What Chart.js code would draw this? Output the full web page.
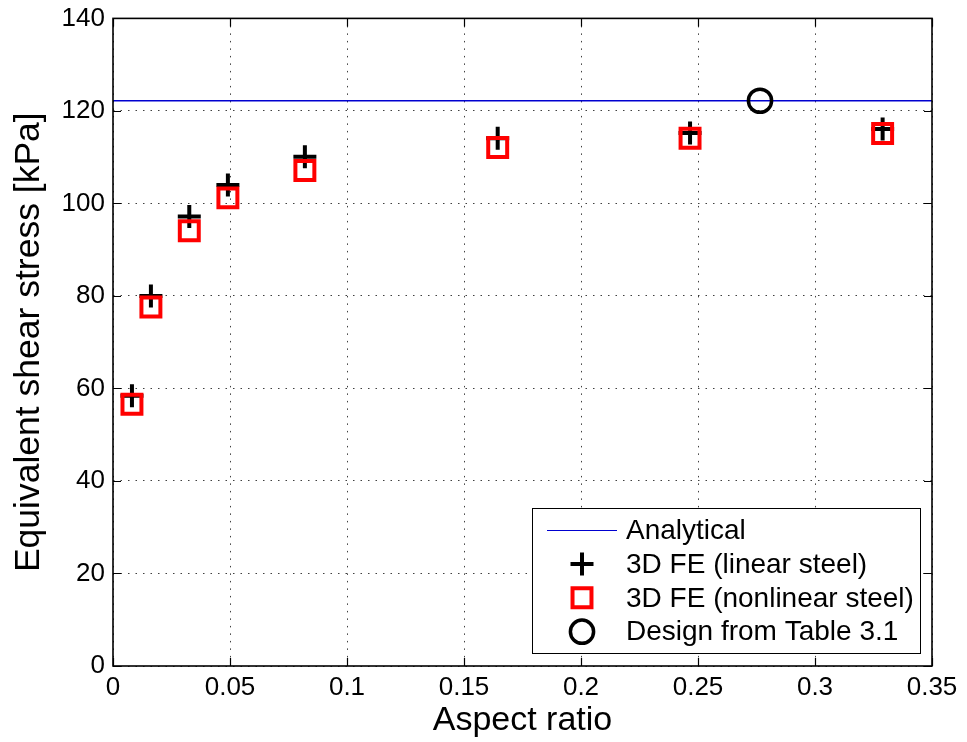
<!DOCTYPE html>
<html>
<head>
<meta charset="utf-8">
<script src="https://cdn.jsdelivr.net/npm/chart.js@4.4.1/dist/chart.umd.min.js"></script>
<style>
  html, body { margin: 0; padding: 0; background: #fff; }
  #wrap { width: 967px; height: 742px; }
</style>
</head>
<body>
<div id="wrap"><canvas id="grafico"></canvas></div>
<script>
// valores
const aspect_ratio = [0.0081, 0.0162, 0.0326, 0.0491, 0.082, 0.1644, 0.2466, 0.3289]
const linear_steel = [58.4, 80.0, 97.2, 104.0, 110.1, 114.1, 115.2, 116.1]
const nonlinear_steel = [56.6, 77.6, 94.1, 101.2, 107.1, 112.1, 114.1, 115.1]
const analytical_x = [0, 0.35]
const analytical_y = [122.2, 122.2]
const design_x = [0.2765]
const design_y = [122.2]
const x_ticks = [0, 0.05, 0.1, 0.15, 0.2, 0.25, 0.3, 0.35]
const y_ticks = [0, 20, 40, 60, 80, 100, 120, 140]

const fonte = "'Liberation Sans', Arial, sans-serif"

const pares = (xs, ys) => xs.map((x, i) => ({ x: x, y: ys[i] }))

// caixa dos eixos + ticks para dentro (estilo matlab)
const caixaEixos = {
  id: 'caixaEixos',
  afterDraw(chart) {
    const { ctx, chartArea: a, scales: { x, y } } = chart
    ctx.save()
    ctx.strokeStyle = '#000'
    ctx.lineWidth = 1.2
    const tl = 8
    ctx.beginPath()
    x_ticks.forEach(v => {
      const px = Math.round(x.getPixelForValue(v)) + 0.5
      ctx.moveTo(px, a.bottom); ctx.lineTo(px, a.bottom - tl)
      ctx.moveTo(px, a.top); ctx.lineTo(px, a.top + tl)
    })
    y_ticks.forEach(v => {
      const py = Math.round(y.getPixelForValue(v)) + 0.5
      ctx.moveTo(a.left, py); ctx.lineTo(a.left + tl, py)
      ctx.moveTo(a.right, py); ctx.lineTo(a.right - tl, py)
    })
    ctx.stroke()
    ctx.lineWidth = 1.6
    ctx.strokeRect(a.left, a.top, a.right - a.left, a.bottom - a.top)
    ctx.restore()
  }
}

// legenda dentro do gráfico
const legendaMatlab = {
  id: 'legendaMatlab',
  afterDraw(chart) {
    const { ctx } = chart
    const bx = 532, by = 508, bw = 388, bh = 145
    ctx.save()
    ctx.fillStyle = '#fff'
    ctx.fillRect(bx, by, bw, bh)
    ctx.strokeStyle = '#000'
    ctx.lineWidth = 1
    ctx.strokeRect(bx + 0.5, by + 0.5, bw, bh)

    const ordem = [0, 1, 2, 3]
    ctx.font = '28px ' + fonte
    ctx.textBaseline = 'middle'
    ctx.textAlign = 'left'
    ordem.forEach((idx, i) => {
      const ds = chart.data.datasets[idx]
      const cy = by + 22 + i * 33.9
      const mx = 582
      if (ds.showLine) {
        ctx.strokeStyle = ds.borderColor
        ctx.lineWidth = 1
        ctx.beginPath()
        ctx.moveTo(547, Math.round(cy) + 0.5); ctx.lineTo(617, Math.round(cy) + 0.5)
        ctx.stroke()
      } else {
        ctx.strokeStyle = ds.borderColor
        ctx.fillStyle = 'rgba(0,0,0,0)'
        ctx.lineWidth = ds.borderWidth
        Chart.helpers.drawPoint(ctx, {
          pointStyle: ds.pointStyle,
          radius: ds.pointRadius,
          borderWidth: ds.borderWidth,
          rotation: 0
        }, mx, cy)
      }
      ctx.fillStyle = '#000'
      ctx.fillText(ds.label, 626, cy + 1)
    })
    ctx.restore()
  }
}

const ctx = document.getElementById('grafico')

const data = {
  datasets: [
    {
      label: 'Analytical',
      data: pares(analytical_x, analytical_y),
      showLine: true,
      borderColor: '#0000d0',
      borderWidth: 1.3,
      pointRadius: 0,
      order: 3
    },
    {
      label: '3D FE (linear steel)',
      data: pares(aspect_ratio, linear_steel),
      showLine: false,
      pointStyle: 'cross',
      pointRadius: 11.5,
      borderWidth: 4,
      borderColor: '#000',
      backgroundColor: 'rgba(0,0,0,0)',
      order: 2
    },
    {
      label: '3D FE (nonlinear steel)',
      data: pares(aspect_ratio, nonlinear_steel),
      showLine: false,
      pointStyle: 'rect',
      pointRadius: 13.4,
      borderWidth: 4,
      borderColor: '#ff0000',
      backgroundColor: 'rgba(0,0,0,0)',
      order: 1
    },
    {
      label: 'Design from Table 3.1',
      data: pares(design_x, design_y),
      showLine: false,
      pointStyle: 'circle',
      pointRadius: 11.6,
      borderWidth: 3.5,
      borderColor: '#000',
      backgroundColor: 'rgba(0,0,0,0)',
      order: 0
    }
  ]
}

const config = {
  type: 'scatter',
  data,
  options: {
    responsive: true,
    maintainAspectRatio: false,
    animation: false,
    layout: { padding: { top: 18, right: 35, left: 0, bottom: 0 } },
    plugins: {
      legend: { display: false },
      tooltip: { enabled: false }
    },
    scales: {
      x: {
        type: 'linear',
        min: 0,
        max: 0.35,
        afterFit: s => { s.height = 76 },
        afterBuildTicks: s => { s.ticks = x_ticks.map(v => ({ value: v })) },
        grid: { color: 'rgba(0,0,0,0.75)', lineWidth: 1, drawTicks: false },
        border: { display: false, dash: [1.5, 6] },
        ticks: {
          color: '#000',
          padding: 6,
          font: { family: fonte, size: 26 },
          callback: v => String(v)
        },
        title: {
          display: true,
          text: 'Aspect ratio',
          color: '#000',
          font: { family: fonte, size: 34 },
          padding: { top: 0, bottom: 1 }
        }
      },
      y: {
        type: 'linear',
        min: 0,
        max: 140,
        afterFit: s => { s.width = 113 },
        afterBuildTicks: s => { s.ticks = y_ticks.map(v => ({ value: v })) },
        grid: { color: 'rgba(0,0,0,0.75)', lineWidth: 1, drawTicks: false },
        border: { display: false, dash: [1.5, 6] },
        ticks: {
          color: '#000',
          padding: 8,
          font: { family: fonte, size: 26, lineHeight: 0.8 }
        },
        title: {
          display: true,
          text: 'Equivalent shear stress [kPa]',
          color: '#000',
          font: { family: fonte, size: 35.5 },
          padding: { top: 8, bottom: 0 }
        }
      }
    }
  },
  plugins: [caixaEixos, legendaMatlab]
}

const graph = new Chart(ctx, config)
</script>
</body>
</html>
